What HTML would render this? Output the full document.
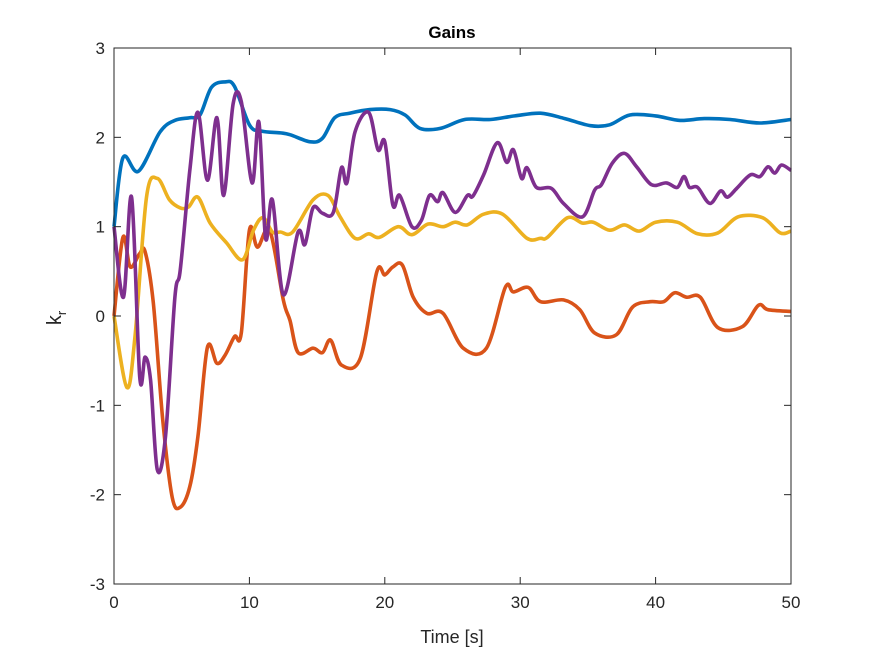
<!DOCTYPE html>
<html><head><meta charset="utf-8"><style>
body{margin:0;background:#fff;}
svg text{font-family:"Liberation Sans",sans-serif;fill:#262626;}
</style></head><body>
<svg id="chart" width="875" height="656" viewBox="0 0 875 656" xmlns="http://www.w3.org/2000/svg">
<rect width="875" height="656" fill="#fff"/>
<g id="series"></g>
<g id="axes"></g>
<text x="452" y="38" text-anchor="middle" font-size="17" font-weight="bold" style="fill:#000">Gains</text>
<text x="452" y="643" text-anchor="middle" font-size="18">Time [s]</text>
<text transform="translate(61,318) rotate(-90)" text-anchor="middle" font-size="20">k<tspan font-size="13" dy="5">r</tspan></text>
</svg>
<script>
const xTicks=[0,10,20,30,40,50];
const yTicks=[-3,-2,-1,0,1,2,3];
const blueT=[0,0.66,1.8,3.4,4.5,5.6,6.35,7.2,8.2,8.9,10,10.9,12.3,13,14.5,15.4,16.3,17.4,18.9,20.4,21.5,22.6,24.1,25.9,27.8,29.6,31.5,33.3,35.2,36.6,38.1,40,41.8,43.6,45.5,47.7,50];
const blueV=[1.0,1.77,1.62,2.06,2.19,2.22,2.25,2.56,2.62,2.57,2.14,2.07,2.05,2.03,1.95,1.99,2.22,2.27,2.31,2.31,2.25,2.1,2.1,2.2,2.2,2.24,2.27,2.21,2.13,2.14,2.25,2.24,2.19,2.21,2.2,2.16,2.2];
const orangeT=[0,0.66,1.2,1.9,2.3,2.9,3.6,4.3,4.9,5.6,6.2,6.9,7.6,8.2,8.9,9.4,10,10.6,11.5,12.5,13,13.6,14.7,15.4,16,16.8,18.2,19.4,20,20.6,21.3,22.1,23.1,24.3,25.8,27.5,28.9,29.5,30.6,31.5,33.2,34.4,35.5,37.1,38.3,39.6,40.6,41.4,42.3,43.3,44.6,46.4,47.6,48.3,50];
const orangeV=[0,0.88,0.55,0.7,0.72,0.15,-1.16,-2.03,-2.14,-1.91,-1.35,-0.35,-0.53,-0.44,-0.23,-0.19,0.96,0.77,0.96,0.18,-0.05,-0.41,-0.36,-0.41,-0.27,-0.55,-0.47,0.49,0.46,0.55,0.57,0.21,0.03,0.03,-0.36,-0.36,0.32,0.27,0.32,0.16,0.18,0.07,-0.19,-0.21,0.1,0.16,0.16,0.26,0.21,0.21,-0.13,-0.12,0.12,0.07,0.05];
const yellowT=[0,0.95,1.55,2.4,3.2,4.1,4.9,5.5,6.2,7.1,8.3,9.5,10.3,11,11.7,12.3,13.2,14.7,15.8,16.7,17.8,18.8,19.6,21,22,23.2,24.3,25.2,26.1,27.3,28.7,30.5,31.5,32,33.5,34.6,35.4,36.6,37.7,38.8,40,41.6,43.1,44.6,46.1,47.9,49.2,50];
const yellowV=[0,-0.8,-0.23,1.33,1.54,1.3,1.21,1.22,1.33,1.04,0.82,0.63,0.96,1.1,0.94,0.94,0.94,1.3,1.35,1.11,0.87,0.92,0.88,1.0,0.91,1.03,1.0,1.05,1.02,1.14,1.14,0.87,0.87,0.88,1.1,1.04,1.05,0.96,1.02,0.95,1.05,1.05,0.92,0.93,1.11,1.1,0.93,0.95];
const purpleT=[0,0.7,1.3,1.9,2.3,2.7,3.2,3.8,4.5,4.9,5.6,6.2,6.9,7.6,8.1,8.8,9.4,10.2,10.7,11.2,11.7,12.5,13.6,14.1,14.7,15.4,16.2,16.8,17.2,17.8,18.8,19.5,20,20.6,21.1,22,22.7,23.3,23.9,24.3,25.2,26.1,26.5,27.3,28.3,29,29.5,30.1,30.5,31.2,32.3,33.2,34.6,35.5,36,36.8,37.7,38.6,39.7,40.8,41.6,42.1,42.5,43.1,44,44.8,45.3,46,47,47.7,48.3,48.8,49.3,50];
const purpleV=[1.0,0.21,1.33,-0.68,-0.46,-0.72,-1.72,-1.35,0.21,0.52,1.63,2.28,1.52,2.22,1.35,2.38,2.4,1.49,2.17,0.87,1.3,0.24,0.94,0.8,1.21,1.15,1.16,1.66,1.49,2.06,2.28,1.86,1.95,1.24,1.35,1.0,1.07,1.35,1.28,1.38,1.16,1.35,1.34,1.58,1.94,1.72,1.86,1.54,1.66,1.44,1.43,1.26,1.11,1.41,1.47,1.71,1.82,1.67,1.47,1.49,1.44,1.56,1.44,1.44,1.26,1.4,1.33,1.43,1.58,1.56,1.67,1.6,1.69,1.63];

const L=114,R=791,T=48,B=584;
const xs=t=>L+(t-0)/50*(R-L);
const ys=v=>B-(v+3)/6*(B-T);
const NS='http://www.w3.org/2000/svg';
function smooth(tArr,vArr){
  const p=tArr.map((t,i)=>[xs(t),ys(vArr[i])]);
  let d='M'+p[0][0].toFixed(1)+','+p[0][1].toFixed(1);
  for(let i=0;i<p.length-1;i++){
    const p0=p[i-1]||p[i],p1=p[i],p2=p[i+1],p3=p[i+2]||p[i+1];
    const c1=[p1[0]+(p2[0]-p0[0])/6,p1[1]+(p2[1]-p0[1])/6];
    const c2=[p2[0]-(p3[0]-p1[0])/6,p2[1]-(p3[1]-p1[1])/6];
    d+='C'+c1.map(n=>n.toFixed(1))+' '+c2.map(n=>n.toFixed(1))+' '+p2.map(n=>n.toFixed(1));
  }
  return d;
}
const sg=document.getElementById('series');
function addLine(tA,vA,color,name){
  const el=document.createElementNS(NS,'path');
  el.setAttribute('d',smooth(tA,vA));
  el.setAttribute('fill','none');
  el.setAttribute('stroke',color);
  el.setAttribute('stroke-width','3.6');
  el.setAttribute('stroke-linejoin','round');
  
  
  sg.appendChild(el);
}
addLine(blueT,blueV,'#0072BD','series-blue-line');
addLine(orangeT,orangeV,'#D95319','series-orange-line');
addLine(yellowT,yellowV,'#EDB120','series-yellow-line');
addLine(purpleT,purpleV,'#7E2F8E','series-purple-line');

const ag=document.getElementById('axes');
const box=document.createElementNS(NS,'rect');
box.setAttribute('x',L);box.setAttribute('y',T);box.setAttribute('width',R-L);box.setAttribute('height',B-T);
box.setAttribute('fill','none');box.setAttribute('stroke','#262626');box.setAttribute('stroke-width','1');


ag.appendChild(box);
xTicks.forEach(t=>{
  const x=xs(t);
  [[B,B-7],[T,T+7]].forEach(([a,b])=>{
    const ln=document.createElementNS(NS,'line');
    ln.setAttribute('x1',x);ln.setAttribute('x2',x);ln.setAttribute('y1',a);ln.setAttribute('y2',b);
    ln.setAttribute('stroke','#262626');
    
    
    ag.appendChild(ln);
  });
  const tx=document.createElementNS(NS,'text');
  tx.setAttribute('x',x);tx.setAttribute('y',B+24);tx.setAttribute('text-anchor','middle');tx.setAttribute('font-size','17');
  tx.textContent=t;
  
  
  ag.appendChild(tx);
});
yTicks.forEach(v=>{
  const y=ys(v);
  [[L,L+7],[R,R-7]].forEach(([a,b])=>{
    const ln=document.createElementNS(NS,'line');
    ln.setAttribute('x1',a);ln.setAttribute('x2',b);ln.setAttribute('y1',y);ln.setAttribute('y2',y);
    ln.setAttribute('stroke','#262626');
    
    
    ag.appendChild(ln);
  });
  const tx=document.createElementNS(NS,'text');
  tx.setAttribute('x',L-9);tx.setAttribute('y',y+6);tx.setAttribute('text-anchor','end');tx.setAttribute('font-size','17');
  tx.textContent=v;
  
  
  ag.appendChild(tx);
});
</script>
</body></html>
